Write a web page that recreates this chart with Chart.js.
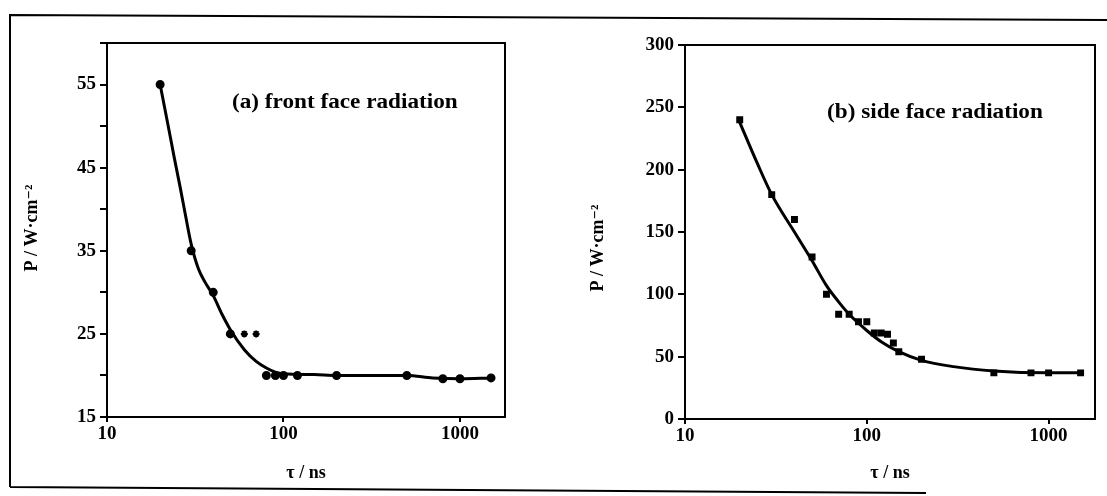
<!DOCTYPE html>
<html>
<head>
<meta charset="utf-8">
<script src="https://cdn.jsdelivr.net/npm/chart.js@4.4.0/dist/chart.umd.min.js"></script>
<style>
  html, body { margin: 0; padding: 0; background: #fff; }
  #page { position: relative; width: 1107px; height: 496px; overflow: hidden; }
  canvas { position: absolute; top: 0; }
</style>
</head>
<body>
<div id="page">
  <canvas id="frame" width="1107" height="496" style="left:0"></canvas>
  <canvas id="front" width="553" height="496" style="left:0"></canvas>
  <canvas id="side" width="554" height="496" style="left:553px"></canvas>
</div>
<script>
// data

// (a) front face radiation
const tauFront = [20, 30, 40, 50, 60, 70, 80, 90, 100, 120, 200, 500, 800, 1000, 1500]
const powerFront = [55, 35, 30, 25, 25, 25, 20, 20, 20, 20, 20, 20, 19.6, 19.6, 19.7]
const markerFront = ['circle', 'circle', 'circle', 'circle', 'star', 'star', 'circle', 'circle',
  'circle', 'circle', 'circle', 'circle', 'circle', 'circle', 'circle']
const fitTauFront = [20, 22, 24, 26, 28, 30, 33, 36, 40, 45, 50, 60, 70, 80, 90, 100, 150, 200, 300, 500, 700, 1000, 1500]
const fitFront = [55, 50.5, 46.3, 42.6, 39, 35.8, 32.8, 31.2, 29.6, 27.3, 25.5, 23.1, 21.7, 20.9, 20.4, 20.2, 20.1, 20, 20, 20, 19.7, 19.6, 19.7]
const yTicksFront = [15, 25, 35, 45, 55]

// (b) side face radiation
const tauSide = [20, 30, 40, 50, 60, 70, 80, 90, 100, 110, 120, 130, 140, 150, 200, 500, 800, 1000, 1500]
const powerSide = [240, 180, 160, 130, 100, 84, 84, 78, 78, 69, 69, 68, 61, 54, 48, 37, 37, 37, 37]
const fitTauSide = [20, 25, 30, 40, 50, 60, 70, 80, 100, 120, 150, 200, 300, 500, 1000, 1500]
const fitSide = [238, 205, 180, 150, 127, 107, 94, 84, 71, 62, 54, 47, 42, 38.5, 37, 37]
const yTicksSide = [0, 50, 100, 150, 200, 250, 300]

const xTicks = [10, 100, 1000]
const xTitle = 'τ / ns'
const yTitle = 'P / W·cm⁻²'

const serif = '"Liberation Serif", "DejaVu Serif", serif'

// outer border of the figure
const frame = document.getElementById('frame').getContext('2d')
frame.strokeStyle = '#000'
frame.lineWidth = 2
frame.beginPath()
frame.moveTo(10, 487)
frame.lineTo(10, 15)
frame.lineTo(1107, 20)
frame.moveTo(10, 487)
frame.lineTo(926, 493)
frame.stroke()

const toPoints = (xs, ys) => xs.map((x, i) => ({ x: x, y: ys[i] }))

// box round the plot area, panel caption and rotated y title
const boxPlugin = (opts) => ({
  id: 'box',
  afterDraw: (chart) => {
    const { ctx, chartArea } = chart
    ctx.save()
    ctx.strokeStyle = '#000'
    ctx.lineWidth = 2
    ctx.strokeRect(chartArea.left, chartArea.top, chartArea.right - chartArea.left, chartArea.bottom - chartArea.top)
    ctx.fillStyle = '#000'
    ctx.textBaseline = 'middle'

    ctx.save()
    ctx.translate(opts.captionX, opts.captionY)
    ctx.scale(1.16, 1)
    ctx.font = 'bold 20px ' + serif
    ctx.fillText(opts.caption, 0, 0)
    ctx.restore()

    ctx.save()
    ctx.translate(opts.yTitleX, opts.yTitleY)
    ctx.rotate(-Math.PI / 2)
    ctx.textAlign = 'center'
    ctx.font = 'bold 18px ' + serif
    ctx.fillText(yTitle, 0, 0)
    ctx.restore()

    ctx.restore()
  },
})

const makeChart = (canvas, opts) => {
  return new Chart(canvas, {
    type: 'scatter',
    data: {
      datasets: [
        {
          label: 'fit',
          data: toPoints(opts.fitTau, opts.fit),
          showLine: true,
          borderColor: '#000',
          borderWidth: 3,
          pointRadius: 0,
          cubicInterpolationMode: 'monotone',
        },
        {
          label: 'measured',
          data: toPoints(opts.tau, opts.power),
          showLine: false,
          pointStyle: opts.marker,
          pointRadius: opts.radius,
          backgroundColor: '#000',
          borderColor: '#000',
          borderWidth: 2,
        },
      ],
    },
    options: {
      responsive: false,
      animation: false,
      devicePixelRatio: 1,
      layout: { padding: opts.padding },
      plugins: { legend: { display: false }, tooltip: { enabled: false } },
      scales: {
        x: {
          type: 'logarithmic',
          min: 10,
          max: 1800,
          afterBuildTicks: (scale) => {
            scale.ticks = xTicks.map((v) => ({ value: v }))
          },
          afterFit: (scale) => {
            scale.height = opts.xHeight
          },
          ticks: {
            color: '#000',
            padding: 1,
            maxRotation: 0,
            font: { family: serif, size: 19, weight: 'bold' },
            callback: (v) => String(v),
          },
          grid: { drawOnChartArea: false, tickLength: 5, color: '#000', lineWidth: 2 },
          border: { color: '#000', width: 2 },
          title: {
            display: true,
            text: xTitle,
            color: '#000',
            font: { family: serif, size: 18, weight: 'bold' },
            padding: { top: 0, bottom: 12 },
          },
        },
        y: {
          min: opts.yMin,
          max: opts.yMax,
          afterFit: (scale) => {
            scale.width = opts.yWidth
          },
          ticks: {
            color: '#000',
            padding: 4,
            stepSize: opts.yStep,
            autoSkip: false,
            font: { family: serif, size: 19, weight: 'bold' },
            callback: (v) => (opts.yTicks.includes(v) ? String(v) : ''),
          },
          grid: { drawOnChartArea: false, tickLength: 7, color: '#000', lineWidth: 2 },
          border: { color: '#000', width: 2 },
        },
      },
    },
    plugins: [boxPlugin(opts)],
  })
}

const frontChart = makeChart(document.getElementById('front'), {
  tau: tauFront,
  power: powerFront,
  marker: markerFront,
  radius: 3.5,
  fitTau: fitTauFront,
  fit: fitFront,
  yMin: 15,
  yMax: 60,
  yStep: 5,
  yTicks: yTicksFront,
  yWidth: 107,
  xHeight: 79,
  padding: { top: 43, right: 48, left: 0, bottom: 0 },
  caption: '(a) front face radiation',
  captionX: 232,
  captionY: 103,
  yTitleX: 32,
  yTitleY: 228,
})

const sideChart = makeChart(document.getElementById('side'), {
  tau: tauSide,
  power: powerSide,
  marker: 'rect',
  radius: 3.5,
  fitTau: fitTauSide,
  fit: fitSide,
  yMin: 0,
  yMax: 300,
  yStep: 50,
  yTicks: yTicksSide,
  yWidth: 132,
  xHeight: 77,
  padding: { top: 45, right: 12, left: 0, bottom: 0 },
  caption: '(b) side face radiation',
  captionX: 274,
  captionY: 113,
  yTitleX: 45,
  yTitleY: 248,
})
</script>
</body>
</html>
